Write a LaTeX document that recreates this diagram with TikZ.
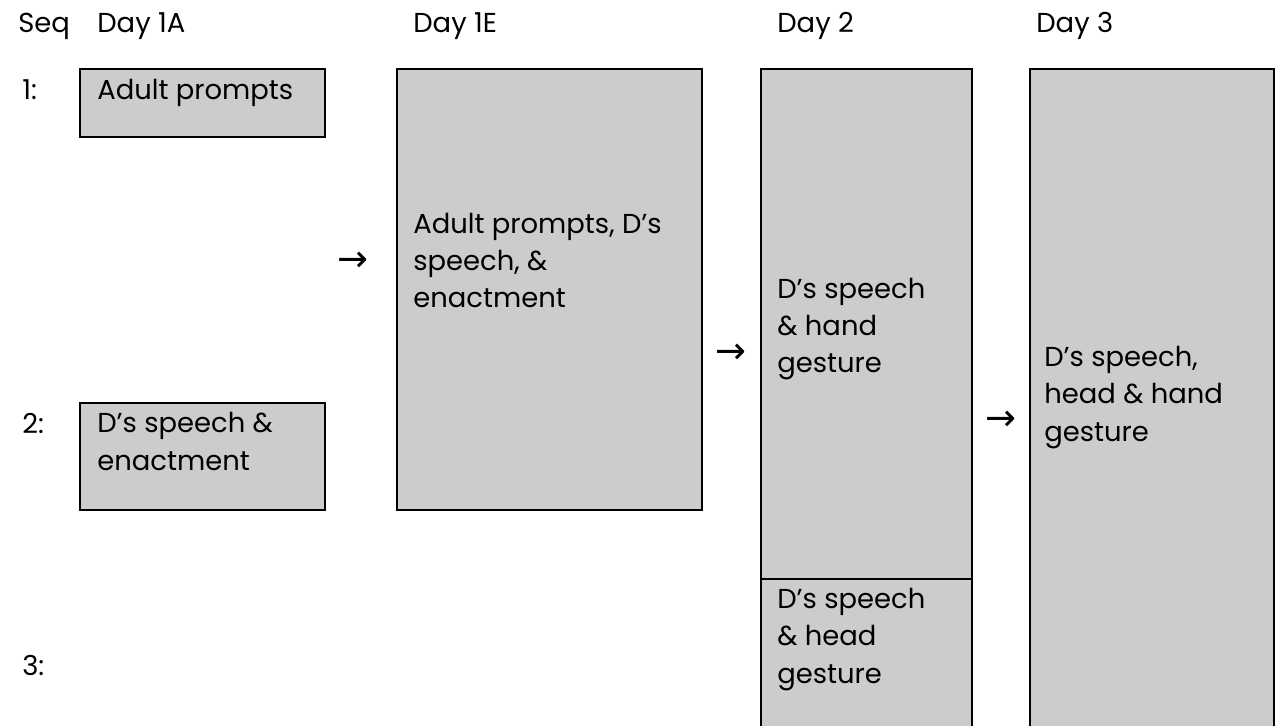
\documentclass[tikz,border=0pt]{standalone}
\usepackage{fontspec}
\setmainfont{Poppins}
\newfontfamily\arrowfont{DejaVu Sans}
\definecolor{cellgray}{HTML}{CCCCCC}
\tikzset{
  cell/.style={color=black, fill=cellgray, line width=1pt},
  celltext/.style={anchor=base west, inner sep=0pt, align=left,
                   font=\fontsize{15.6}{21.2}\selectfont},
  seqarrow/.style={inner sep=0pt, font=\arrowfont\fontsize{21}{24}\selectfont}
}
\begin{document}
\begin{tikzpicture}[x=0.02cm, y=-0.02cm]
\useasboundingbox (0,0) rectangle (1275,726);

% headings
\node[celltext] (seq) at (18,33) {Seq};
\node[celltext] (day1a) at (97,33) {Day 1A};
\node[celltext] (day1e) at (413,33) {Day 1E};
\node[celltext] (day2) at (777,33) {Day 2};
\node[celltext] (day3) at (1036,33) {Day 3};

\node[celltext] (seqone) at (22,100) {1:};
\node[celltext] (seqtwo) at (22,433) {2:};
\node[celltext] (seqthree) at (22,675) {3:};

% boxes
\filldraw[cell] (80,69) rectangle (325,137);
\filldraw[cell] (80,403) rectangle (325,510);
\filldraw[cell] (397,69) rectangle (702,510);
\fill[cellgray] (761,69) rectangle (972,726);
\draw[cell] (761,726) -- (761,69) -- (972,69) -- (972,726);
\draw[cell] (761,579) -- (972,579);
\fill[cellgray] (1030,69) rectangle (1274,726);
\draw[cell] (1030,726) -- (1030,69) -- (1274,69) -- (1274,726);

% box texts (base = last line)
\node[celltext] (adult) at (97,100) {Adult prompts};
\node[celltext] (enact) at (97,470) {D’s speech \&\\enactment};
\node[celltext] (mixed) at (413,308) {Adult prompts, D’s\\speech, \&\\enactment};
\node[celltext] (hand) at (777,373) {D’s speech\\\& hand\\gesture};
\node[celltext] (head) at (777,683) {D’s speech\\\& head\\gesture};
\node[celltext] (both) at (1044,441) {D’s speech,\\head \& hand\\gesture};

% arrows between days
\foreach \x/\y/\n in {353/262/ae, 731/354/eb, 1001/421/bd}
  \node[seqarrow] (arr\n) at (\x,\y) {→};
\end{tikzpicture}
\end{document}
